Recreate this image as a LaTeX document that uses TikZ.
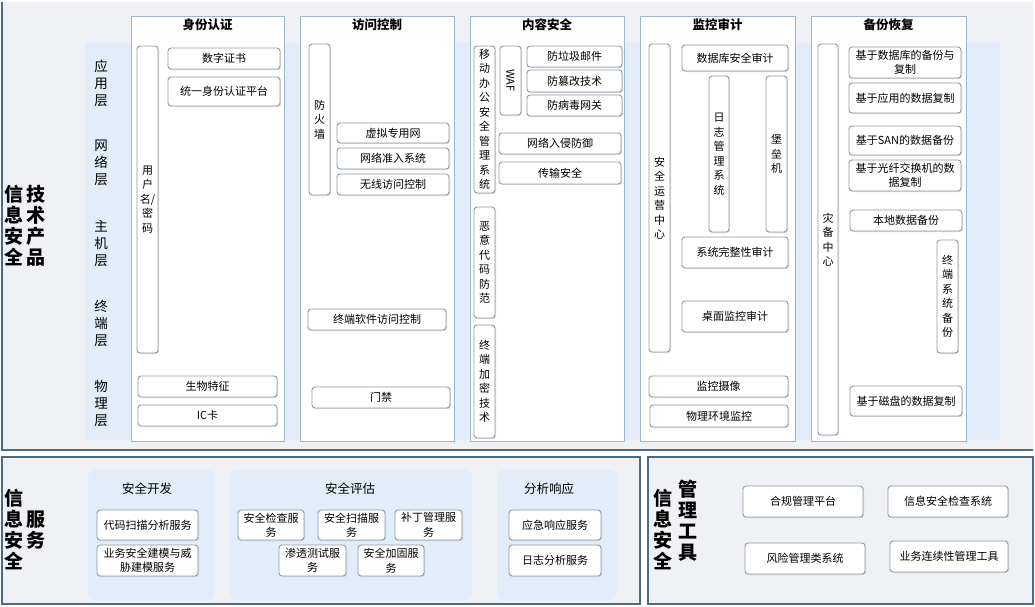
\documentclass[tikz,border=0pt]{standalone}
\usepackage{fontspec}
\setmainfont{Noto Sans CJK SC}
\usetikzlibrary{shadows}
\definecolor{bgc}{HTML}{EFF1F4}
\definecolor{band}{HTML}{E2EDF9}
\definecolor{frm}{HTML}{9FB6D3}
\definecolor{bxd}{HTML}{8D99A8}
\definecolor{edge}{HTML}{4A6A8A}
\tikzset{
 bx/.style={draw=bxd,fill=white,rounded corners=3pt,line width=0.9pt,inner sep=0pt,align=center,
   font=\fontsize{11}{14.5}\selectfont,drop shadow={shadow xshift=1pt,shadow yshift=-1pt,fill=black!25}},
 col/.style={draw=frm,fill=white,line width=1pt},
 ttl/.style={font=\fontsize{12.5}{14}\selectfont\bfseries},
 lay/.style={font=\fontsize{13.5}{17}\selectfont,align=center},
 big/.style={font=\fontsize{19}{21}\selectfont\bfseries,align=center},
 sub/.style={font=\fontsize{12.5}{14}\selectfont},
}
\newcommand\B[6]{\node[bx,minimum width={(#4-#2)*1pt},minimum height={(#5-#3)*1pt}] (#1) at ({(#2+#4)/2},{(#3+#5)/2}) {#6};}
\begin{document}
\begin{tikzpicture}[x=1pt,y=-1pt]
\useasboundingbox (0,0) rectangle (1035,606);
\fill[white] (0,0) rectangle (1035,606);
% top panel
\fill[bgc] (2,2) rectangle (1033,450);
\draw[edge,line width=1.2pt] (2,2) -- (2,450) -- (1033,450);
\fill[band] (85,42) rectangle (1000,440);
\node[big] (l1) at (14,226) {信\\息\\安\\全};
\node[big] (l2) at (36,226) {技\\术\\产\\品};
\node[lay] (y1) at (101,83) {应\\用\\层};
\node[lay] (y2) at (101,163) {网\\络\\层};
\node[lay] (y3) at (101,243) {主\\机\\层};
\node[lay] (y4) at (101,323) {终\\端\\层};
\node[lay] (y5) at (101,403) {物\\理\\层};
% columns
\draw[col] (131,16) rectangle (284,441); \node[ttl] (t1) at (207.5,25) {身份认证};
\draw[col] (300,16) rectangle (454,441); \node[ttl] (t2) at (377,25) {访问控制};
\draw[col] (470,16) rectangle (624,441); \node[ttl] (t3) at (547,25) {内容安全};
\draw[col] (640,16) rectangle (795,441); \node[ttl] (t4) at (717.5,25) {监控审计};
\draw[col] (811,16) rectangle (966,441); \node[ttl] (t5) at (888.5,25) {备份恢复};
% 身份认证
\B{a1}{137}{46}{158}{353}{用\\户\\名/\\密\\码}
\B{a2}{168}{48}{280}{69}{数字证书}
\B{a3}{168}{77}{280}{106}{统一身份认证平台}
\B{a4}{138}{376}{277}{397}{生物特征}
\B{a5}{138}{405}{277}{426}{IC卡}
% 访问控制
\B{b1}{309}{44}{330}{195}{防\\火\\墙}
\B{b2}{337}{123}{449}{143}{虚拟专用网}
\B{b3}{337}{148}{449}{169}{网络准入系统}
\B{b4}{337}{174}{449}{195}{无线访问控制}
\B{b5}{308}{309}{446}{330}{终端软件访问控制}
\B{b6}{312}{387}{450}{408}{门禁}
% 内容安全
\B{c1}{474}{46}{495}{193}{移\\动\\办\\公\\安\\全\\管\\理\\系\\统}
\B{c2}{500}{46}{521}{115}{\rotatebox{-90}{WAF}}
\B{c3}{527}{46}{622}{67}{防垃圾邮件}
\B{c4}{527}{70}{622}{92}{防篡改技术}
\B{c5}{527}{95}{622}{116}{防病毒网关}
\B{c6}{499}{133}{621}{154}{网络入侵防御}
\B{c7}{499}{162}{621}{184}{传输安全}
\B{c8}{474}{207}{495}{318}{恶\\意\\代\\码\\防\\范}
\B{c9}{474}{325}{495}{438}{终\\端\\加\\密\\技\\术}
% 监控审计
\B{d1}{649}{44}{670}{352}{安\\全\\运\\营\\中\\心}
\B{d2}{682}{45}{788}{71}{数据库安全审计}
\B{d3}{709}{76}{729}{232}{日\\志\\管\\理\\系\\统}
\B{d4}{766}{76}{787}{232}{堡\\垒\\机}
\B{d5}{682}{237}{788}{268}{系统完整性审计}
\B{d6}{682}{301}{788}{332}{桌面监控审计}
\B{d7}{649}{376}{788}{397}{监控摄像}
\B{d8}{650}{405}{788}{427}{物理环境监控}
% 备份恢复
\B{e1}{818}{44}{838}{435}{灾\\备\\中\\心}
\B{e2}{849}{47}{961}{78}{基于数据库的备份与\\复制}
\B{e3}{849}{83}{961}{113}{基于应用的数据复制}
\B{e4}{849}{126}{961}{155}{基于SAN的数据备份}
\B{e5}{849}{160}{961}{191}{基于光纤交换机的数\\据复制}
\B{e6}{850}{210}{962}{231}{本地数据备份}
\B{e7}{937}{240}{958}{353}{终\\端\\系\\统\\备\\份}
\B{e8}{850}{386}{962}{416}{基于磁盘的数据复制}
% bottom panels
\fill[bgc] (2,457) rectangle (640,604);
\draw[edge,line width=1.2pt] (2,457) rectangle (640,604);
\fill[bgc] (648,457) rectangle (1033,604);
\draw[edge,line width=1.2pt] (648,457) rectangle (1033,604);
\node[big] (s1) at (14,530) {信\\息\\安\\全};
\node[big] (s2) at (36,530) {服\\务};
\fill[band,rounded corners=8pt] (88,470) rectangle (215,600);
\fill[band,rounded corners=8pt] (230,470) rectangle (472,600);
\fill[band,rounded corners=8pt] (497,470) rectangle (617,600);
\node[sub] (g1) at (147,489) {安全开发};
\node[sub] (g2) at (350,489) {安全评估};
\node[sub] (g3) at (549,489) {分析响应};
\B{f1}{97}{510}{198}{540}{代码扫描分析服务}
\B{f2}{97}{545}{198}{576}{业务安全建模与威\\胁建模服务}
\B{f3}{238}{510}{304}{540}{安全检查服\\务}
\B{f4}{318}{510}{385}{540}{安全扫描服\\务}
\B{f5}{395}{510}{462}{540}{补丁管理服\\务}
\B{f6}{279}{545}{346}{576}{渗透测试服\\务}
\B{f7}{358}{545}{424}{576}{安全加固服\\务}
\B{f8}{509}{510}{601}{540}{应急响应服务}
\B{f9}{509}{545}{601}{576}{日志分析服务}
\node[big] (m1) at (663,530) {信\\息\\安\\全};
\node[big] (m2) at (688,521) {管\\理\\工\\具};
\B{h1}{743}{486}{863}{517}{合规管理平台}
\B{h2}{888}{486}{1008}{517}{信息安全检查系统}
\B{h3}{745}{543}{865}{574}{风险管理类系统}
\B{h4}{890}{541}{1008}{572}{业务连续性管理工具}
\end{tikzpicture}
\end{document}
